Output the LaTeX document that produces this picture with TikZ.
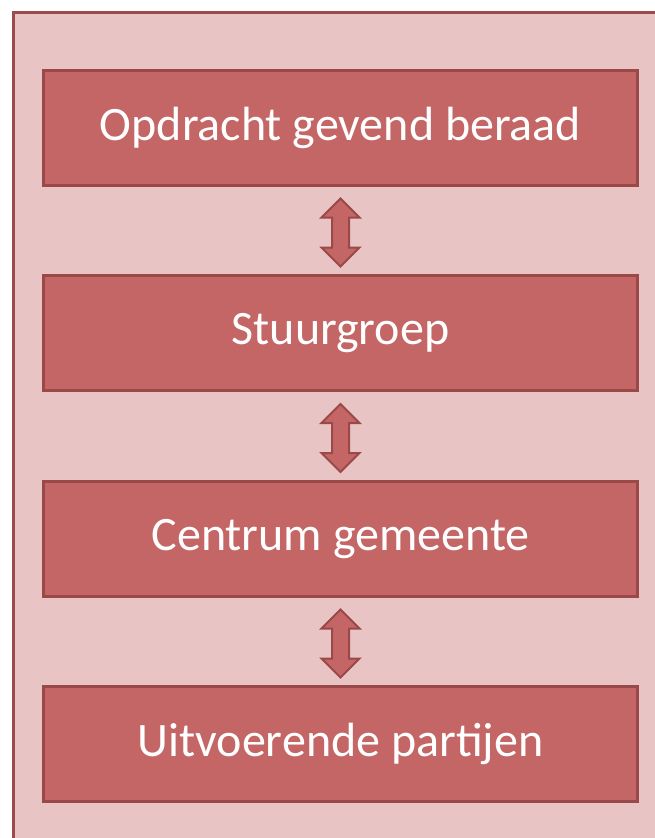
\documentclass[tikz,border=0pt]{standalone}
\usepackage{fontspec}
\setmainfont{Carlito}
\usetikzlibrary{calc}
\definecolor{outerfill}{HTML}{E8C4C4}
\definecolor{outerline}{HTML}{9B4B4B}
\definecolor{boxfill}{HTML}{C46666}
\definecolor{boxline}{HTML}{9A4848}
\tikzset{
  blockbox/.style={draw=boxline, line width=2.5pt, fill=boxfill, minimum width=594*0.75pt, minimum height=115*0.75pt, inner sep=0pt, text=white, font=\fontsize{36}{43}\selectfont},
  arrowshape/.style={draw=boxline, line width=1.5pt, fill=boxfill, line join=miter},
  pics/dblarr/.style={code={
    \draw[arrowshape] (0,-34) -- (19,-15) -- (8.5,-15) -- (8.5,15) -- (19,15) -- (0,34) -- (-19,15) -- (-8.5,15) -- (-8.5,-15) -- (-19,-15) -- cycle;
  }}
}
\begin{document}
\begin{tikzpicture}[x=0.75pt,y=-0.75pt]
\useasboundingbox (0,0) rectangle (654,838);
\draw[outerline, line width=2pt, fill=outerfill] (13.5,12.5) rectangle (670,850);
\node[blockbox] (b1) at (340.5,128) {Opdracht gevend beraad};
\node[blockbox] (b2) at (340.5,333) {Stuurgroep};
\node[blockbox] (b3) at (340.5,539) {Centrum gemeente};
\node[blockbox] (b4) at (340.5,744) {Uitvoerende partijen};
\coordinate (a1) at ($(b1.south)!0.5!(b2.north)+(0,2)$);
\coordinate (a2) at ($(b2.south)!0.5!(b3.north)+(0,2)$);
\coordinate (a3) at ($(b3.south)!0.5!(b4.north)+(0,2)$);
\pic at (a1) {dblarr};
\pic at (a2) {dblarr};
\pic at (a3) {dblarr};
\end{tikzpicture}
\end{document}
